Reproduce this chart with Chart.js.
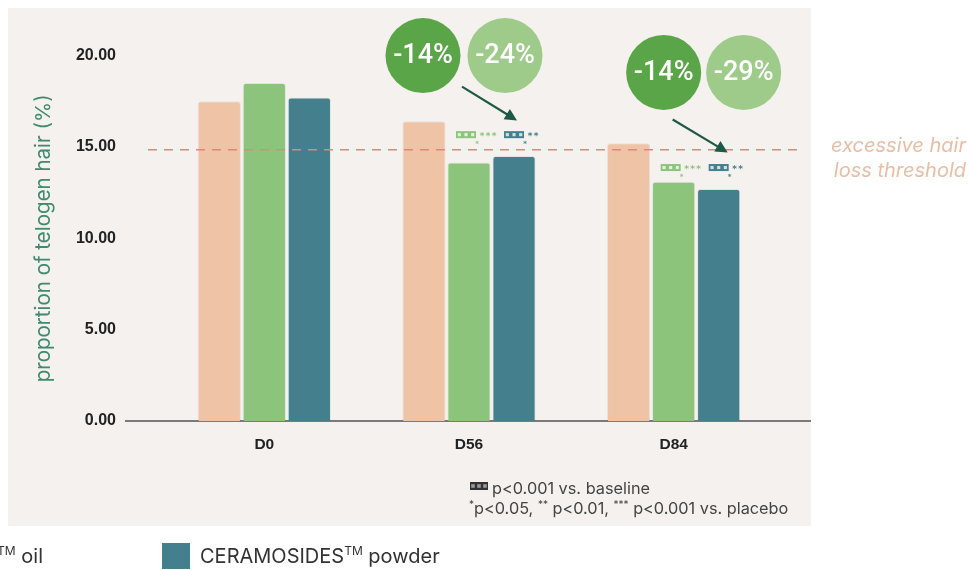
<!DOCTYPE html>
<html>
<head>
<meta charset="utf-8">
<script src="https://cdn.jsdelivr.net/npm/chart.js@4"></script>
<style>
  html, body { margin: 0; padding: 0; background: #ffffff; }
  #wrap { width: 970px; height: 570px; position: relative; }
</style>
</head>
<body>
<div id="wrap"><canvas id="chart" width="970" height="570"></canvas></div>
<script>
// chart values
const categories = ['D0', 'D56', 'D84'];
const placebo = [17.5, 16.4, 15.2];
const ceramOil = [18.5, 14.15, 13.1];
const ceramPowder = [17.7, 14.5, 12.7];
const yTicks = [0, 5, 10, 15, 20];
const threshold = 14.85;
// callout texts per day (oil, powder)
const reductions = [null, ['-14%', '-24%'], ['-14%', '-29%']];
const markerLevels = [null, 15.7, 13.9];
const oilStars = [null, 3, 3];
const powderStars = [null, 2, 2];

const C = {
  panel: '#f5f1ee',
  peach: '#efc3a5',
  green: '#8cc47c',
  teal: '#437f8c',
  darkGreen: '#5aa547',
  lightGreen: '#9ecb8a',
  arrow: '#1e5945',
  dash: '#e0867f',
  note: '#e8bea4',
  axisTitle: '#3f8a70'
};

function supText(ctx, parts, x, y, size) {
  // parts: [[text, isSup]]
  parts.forEach(p => {
    ctx.font = (p[1] ? Math.round(size * 0.6) : size) + 'px Inter, "Noto Sans", sans-serif';
    ctx.fillText(p[0], x, p[1] ? y - size * 0.38 : y);
    x += ctx.measureText(p[0]).width;
  });
  return x;
}

function boxIcon(ctx, x, y, w, h, fill, dot) {
  ctx.fillStyle = fill;
  ctx.fillRect(x, y, w, h);
  ctx.fillStyle = dot;
  const s = h * 0.45;
  for (let i = 0; i < 3; i++) {
    ctx.fillRect(x + w * (i + 0.5) / 3 - s / 2, y + h / 2 - s / 2, s, s);
  }
}

const panelPlugin = {
  id: 'panel',
  beforeDraw(chart) {
    const ctx = chart.ctx;
    ctx.save();
    ctx.fillStyle = '#ffffff';
    ctx.fillRect(0, 0, chart.width, chart.height);
    ctx.fillStyle = C.panel;
    ctx.fillRect(8, 8, 803, 518);
    ctx.restore();
  },
  beforeDatasetsDraw(chart) {
    const ctx = chart.ctx, y = chart.scales.y;
    ctx.save();
    // base line
    ctx.strokeStyle = '#7a7a7a';
    ctx.lineWidth = 2;
    ctx.beginPath();
    ctx.moveTo(125, y.getPixelForValue(0));
    ctx.lineTo(811, y.getPixelForValue(0));
    ctx.stroke();
    ctx.restore();
  }
};

const overlayPlugin = {
  id: 'overlay',
  afterDatasetsDraw(chart) {
    const ctx = chart.ctx, x = chart.scales.x, y = chart.scales.y;
    ctx.save();
    // threshold line
    const ty = y.getPixelForValue(threshold);
    ctx.strokeStyle = C.dash;
    ctx.lineWidth = 1.6;
    ctx.setLineDash([9, 7]);
    ctx.beginPath();
    ctx.moveTo(148, ty);
    ctx.lineTo(802, ty);
    ctx.stroke();
    ctx.setLineDash([]);

    ctx.fillStyle = C.note;
    ctx.font = 'italic 20px Inter, "Noto Sans", sans-serif';
    ctx.textAlign = 'right';
    ctx.textBaseline = 'alphabetic';
    ctx.fillText('excessive hair', 966, 152);
    ctx.fillText('loss threshold', 966, 177);

    // significance markers above bars
    const oilMeta = chart.getDatasetMeta(1), powMeta = chart.getDatasetMeta(2);
    ctx.textAlign = 'center';
    markerLevels.forEach((lvl, i) => {
      if (lvl === null) return;
      const my = y.getPixelForValue(lvl);
      [[oilMeta, C.green, oilStars[i], -3], [powMeta, C.teal, powderStars[i], 0]].forEach(m => {
        const bx = m[0].data[i].x + m[3];
        boxIcon(ctx, bx - 10, my - 3, 20, 7, m[1], 'rgba(255,255,255,0.75)');
        ctx.fillStyle = m[1];
        ctx.font = 'bold 9px "DejaVu Sans", sans-serif';
        for (let k = 0; k < m[2]; k++) ctx.fillText('*', bx + 16 + k * 6, my + 5);
        ctx.font = 'bold 7px "DejaVu Sans", sans-serif';
        ctx.fillText('*', bx + 11, my + 12);
      });
    });

    // reduction callouts (x relative to category center, y as values)
    const callouts = [null,
      { c: [[-46, 20], [36, 20]], a: [-7, 18.3, 48, 16.45] },
      { c: [[-10, 19.08], [70, 19.08]], a: [-1, 16.5, 54, 14.7] }];
    callouts.forEach((co, i) => {
      if (!co) return;
      const cx = x.getPixelForValue(i);
      co.c.forEach((p, k) => {
        const px = cx + p[0], py = y.getPixelForValue(p[1]);
        ctx.fillStyle = k === 0 ? C.darkGreen : C.lightGreen;
        ctx.beginPath();
        ctx.arc(px, py, 37.5, 0, Math.PI * 2);
        ctx.fill();
        ctx.fillStyle = '#ffffff';
        ctx.font = '500 27px Roboto, Inter, sans-serif';
        ctx.textAlign = 'center';
        ctx.textBaseline = 'middle';
        ctx.fillText(reductions[i][k], px, py + 1);
      });
      const x1 = cx + co.a[0], y1 = y.getPixelForValue(co.a[1]);
      const x2 = cx + co.a[2], y2 = y.getPixelForValue(co.a[3]);
      const ang = Math.atan2(y2 - y1, x2 - x1);
      ctx.strokeStyle = C.arrow;
      ctx.fillStyle = C.arrow;
      ctx.lineWidth = 2.2;
      ctx.beginPath();
      ctx.moveTo(x1, y1);
      ctx.lineTo(x2 - 8 * Math.cos(ang), y2 - 8 * Math.sin(ang));
      ctx.stroke();
      ctx.beginPath();
      ctx.moveTo(x2, y2);
      ctx.lineTo(x2 - 12 * Math.cos(ang) + 6 * Math.sin(ang), y2 - 12 * Math.sin(ang) - 6 * Math.cos(ang));
      ctx.lineTo(x2 - 12 * Math.cos(ang) - 6 * Math.sin(ang), y2 - 12 * Math.sin(ang) + 6 * Math.cos(ang));
      ctx.closePath();
      ctx.fill();
    });

    // footnote
    ctx.textAlign = 'left';
    ctx.textBaseline = 'alphabetic';
    boxIcon(ctx, 470, 482, 18, 8, '#333333', '#9a9a9a');
    ctx.fillStyle = '#444444';
    ctx.font = '16.3px Inter, "Noto Sans", sans-serif';
    ctx.fillText('p<0.001 vs. baseline', 492, 494);
    supText(ctx, [['*', true], ['p<0.05, ', false], ['**', true], [' p<0.01, ', false], ['***', true], [' p<0.001 vs. placebo', false]], 469, 514, 16.3);

    // legend (cut at the left edge like the source)
    ctx.fillStyle = '#333333';
    ctx.textAlign = 'left';
    ctx.font = '20px Inter, "Noto Sans", sans-serif';
    const w1 = ctx.measureText('CERAMOSIDES').width;
    ctx.font = '12px Inter, "Noto Sans", sans-serif';
    const w2 = ctx.measureText('TM').width;
    ctx.font = '20px Inter, "Noto Sans", sans-serif';
    const w3 = ctx.measureText(' oil').width;
    supText(ctx, [['CERAMOSIDES', false], ['TM', true], [' oil', false]], 43 - w1 - w2 - w3, 563, 20);
    ctx.fillStyle = C.teal;
    ctx.fillRect(162, 543, 28, 26);
    ctx.fillStyle = '#333333';
    supText(ctx, [['CERAMOSIDES', false], ['TM', true], [' powder', false]], 200, 563, 20);
    ctx.restore();
  }
};

const ds = (label, data, color) => ({
  label: label,
  data: data,
  backgroundColor: color,
  borderColor: 'rgba(0,0,0,0.06)',
  borderWidth: 1,
  borderSkipped: 'bottom',
  borderRadius: { topLeft: 3, topRight: 3 },
  categoryPercentage: 0.66,
  barPercentage: 0.96
});

new Chart(document.getElementById('chart'), {
  type: 'bar',
  data: {
    labels: categories,
    datasets: [
      ds('Placebo', placebo, C.peach),
      ds('CERAMOSIDES\u2122 oil', ceramOil, C.green),
      ds('CERAMOSIDES\u2122 powder', ceramPowder, C.teal)
    ]
  },
  options: {
    responsive: false,
    animation: false,
    layout: { padding: { left: 8, right: 194, top: 52, bottom: 109 } },
    plugins: { legend: { display: false }, tooltip: { enabled: false } },
    scales: {
      x: {
        grid: { display: false, drawTicks: false },
        border: { display: false },
        ticks: { color: '#222222', padding: 14, font: { family: '"Liberation Sans", Arial, sans-serif', size: 15.5, weight: 'bold' } },
        afterFit: s => { s.height = 40; }
      },
      y: {
        min: 0,
        max: 20,
        grid: { display: false, drawTicks: false },
        border: { display: false },
        afterBuildTicks: s => { s.ticks = yTicks.map(v => ({ value: v })); },
        ticks: {
          color: '#222222',
          padding: 46,
          font: { family: '"Liberation Sans", Arial, sans-serif', size: 16, weight: 'bold' },
          callback: v => Number(v).toFixed(2)
        },
        title: {
          display: true,
          text: 'proportion of telogen hair (%)',
          color: C.axisTitle,
          padding: { top: 24, bottom: 0 },
          font: { family: 'Inter, "Noto Sans", sans-serif', size: 20.5 }
        },
        afterFit: s => { s.width = 154; }
      }
    }
  },
  plugins: [panelPlugin, overlayPlugin]
});
</script>
</body>
</html>
